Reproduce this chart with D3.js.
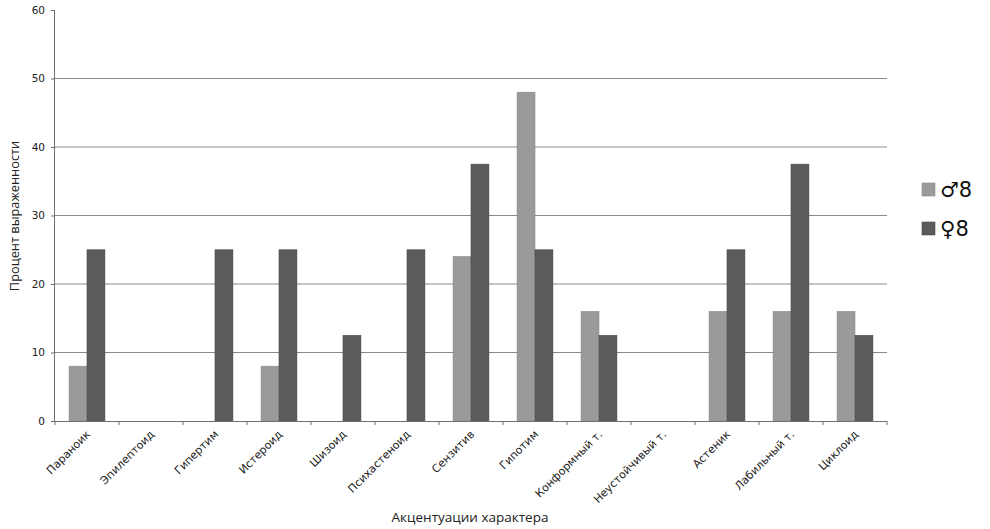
<!DOCTYPE html>
<html><head><meta charset="utf-8">
<script src="https://cdn.jsdelivr.net/npm/d3@7"></script>
<style>body{margin:0;background:#fff}</style>
</head><body>
<svg id="c" width="990" height="529"></svg>
<script>
const categories = ["Параноик","Эпилептоид","Гипертим","Истероид","Шизоид","Психастеноид","Сензитив","Гипотим","Конформный т.","Неустойчивый т.","Астеник","Лабильный т.","Циклоид"];
const maleValues = [8,0,0,8,0,0,24,48,16,0,16,16,16];
const femaleValues = [25,0,25,25,12.5,25,37.5,25,12.5,0,25,37.5,12.5];
const seriesNames = ["\u2642 8","\u2640 8"];
const yTicks = [0,10,20,30,40,50,60];
const colors = ["#9a9a9a","#5b5b5b"];

const svg = d3.select("#c");
const L=55, R=887, T=10, B=421;
const x = d3.scaleBand().domain(categories).range([L,R]).paddingInner(0.44).paddingOuter(0.22);
const x1 = d3.scaleBand().domain([0,1]).range([0,x.bandwidth()]);
const y = d3.scaleLinear().domain([0,60]).range([B,T]);

// gridlines
svg.append("g").selectAll("line").data(yTicks.filter(d=>d>0 && d<60)).join("line")
  .attr("x1",L).attr("x2",R).attr("y1",d=>y(d)).attr("y2",d=>y(d))
  .attr("stroke","#8a8a8a").attr("stroke-width",1);

// bars
const data = categories.map((c,i)=>({c, v:[maleValues[i], femaleValues[i]]}));
const g = svg.append("g");
data.forEach(d=>{
  d.v.forEach((v,j)=>{
    if(v<=0) return;
    g.append("rect").attr("x",x(d.c)+x1(j)).attr("width",x1.bandwidth())
      .attr("y",y(v)).attr("height",B-y(v)).attr("fill",colors[j])
      .attr("stroke",j===0?"#8a8a8a":"#4e4e4e").attr("stroke-width",0.6);
  });
});

// y axis
const ya = svg.append("g").attr("transform",`translate(${L},0)`)
  .call(d3.axisLeft(y).tickValues(yTicks).tickSize(4).tickPadding(6));
ya.select(".domain").attr("stroke","#6e6e6e").attr("d",`M-0.5,${T}V${B}`);
ya.selectAll(".tick line").attr("stroke","#6e6e6e");
ya.selectAll("text").attr("font-family","DejaVu Sans, Verdana, sans-serif").attr("font-size",10.5).attr("fill","#222");

// x axis
const xticks = d3.range(categories.length+1).map(i=>L+i*(R-L)/categories.length);
svg.append("line").attr("x1",L).attr("x2",R).attr("y1",B+0.5).attr("y2",B+0.5).attr("stroke","#6e6e6e");
svg.append("g").selectAll("line").data(xticks).join("line")
  .attr("x1",d=>d).attr("x2",d=>d).attr("y1",B).attr("y2",B+4).attr("stroke","#6e6e6e");
svg.append("g").selectAll("text").data(categories).join("text")
  .attr("transform",d=>{const cx=x(d)+x.bandwidth()/2+4; return `translate(${cx},${B+14}) rotate(-45)`;})
  .attr("text-anchor","end").attr("font-family","DejaVu Sans, Verdana, sans-serif")
  .attr("font-size",11).attr("fill","#222").text(d=>d);

// axis titles
svg.append("text").attr("x",470).attr("y",522).attr("text-anchor","middle")
  .attr("font-family","Open Sans, sans-serif").attr("font-size",13.5).attr("fill","#222").text("Акцентуации характера");
svg.append("text").attr("transform","translate(19,216) rotate(-90)").attr("text-anchor","middle")
  .attr("font-family","Open Sans, sans-serif").attr("font-size",12.8).attr("fill","#222").text("Процент выраженности");

// legend
const lg = svg.append("g");
seriesNames.forEach((s,i)=>{
  const ly = 189 + i*39;
  lg.append("rect").attr("x",922).attr("y",ly-6).attr("width",13).attr("height",13).attr("fill",colors[i])
    .attr("stroke",i===0?"#8a8a8a":"#4e4e4e").attr("stroke-width",0.6);
  lg.append("text").attr("x",940).attr("y",ly+8).attr("font-family","DejaVu Sans, sans-serif")
    .attr("font-size",21).attr("fill","#111").text(s.replace(" ",""));
});
</script>
</body></html>
